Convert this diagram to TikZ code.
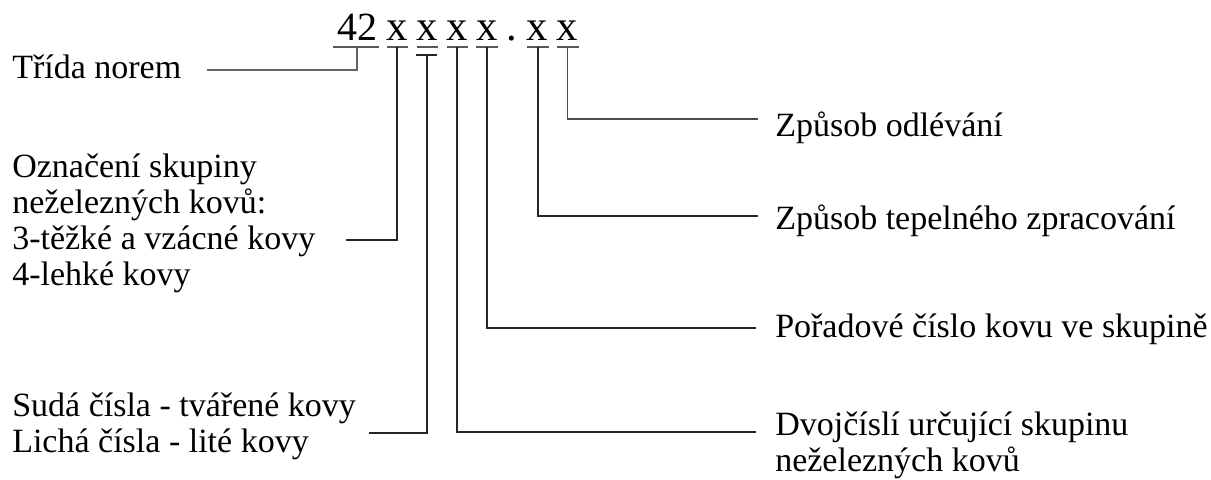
\documentclass[tikz,border=0pt]{standalone}
\usepackage{fontspec}
\setmainfont{Liberation Serif}
\begin{document}
\begin{tikzpicture}[x=0.75pt,y=-0.75pt,
  lbl/.style={anchor=base west,inner sep=0pt,font=\fontsize{25.5pt}{27pt}\selectfont},
  code/.style={anchor=base,inner sep=0pt,font=\fontsize{30pt}{32pt}\selectfont},
  codex/.style={code,font=\fontsize{32pt}{34pt}\selectfont},
  conn/.style={draw=black!85,line width=0.95pt},
  uline/.style={draw=black!65,line width=0.8pt}]
\useasboundingbox (0,0) rectangle (1211,479);
\fill[white] (0,0) rectangle (1211,479);

% code characters
\node[code] (c42) at (357,40) {42};
\node[codex] (c1) at (397,40) {x};
\node[codex] (c2) at (427.5,40) {x};
\node[codex] (c3) at (457,40) {x};
\node[codex] (c4) at (487,40) {x};
\node[codex] (cdot) at (512,40) {.};
\node[codex] (c5) at (537.5,40) {x};
\node[codex] (c6) at (567.5,40) {x};

% underlines
\draw[uline] (333,47) -- (379,47);
\draw[uline] (387,47) -- (408,47);
\draw[uline] (417,47) -- (438,47);
\draw[uline] (447,47) -- (468,47);
\draw[uline] (476,47) -- (498,47);
\draw[uline] (527,47) -- (549,47);
\draw[uline] (557,47) -- (579,47);
\draw[conn] (416,55) -- (437,55);

% connector start points
\coordinate (u42) at (357,47);
\coordinate (u1) at (397,47);
\coordinate (u2) at (427,55);
\coordinate (u3) at (457,47);
\coordinate (u4) at (487,47);
\coordinate (u5) at (538,47);
\coordinate (u6) at (567.5,47);

% connector ends
\coordinate (e42) at (207,70);
\coordinate (e1) at (346,240);
\coordinate (e2) at (369,433);
\coordinate (e3) at (756,432);
\coordinate (e4) at (756,328);
\coordinate (e5) at (758,216);
\coordinate (e6) at (758,119);

% left labels
\node[lbl] (tn) at (12,78) {Třída norem};
\node[lbl] (os1) at (12,177) {Označení skupiny};
\node[lbl] (os2) at (12,213) {neželezných kovů:};
\node[lbl] (os3) at (12,249) {3-těžké a vzácné kovy};
\node[lbl] (os4) at (12,285) {4-lehké kovy};
\node[lbl] (sc1) at (12,416) {Sudá čísla - tvářené kovy};
\node[lbl] (sc2) at (12,452) {Lichá čísla - lité kovy};

% right labels
\node[lbl] (zo) at (775,136) {Způsob odlévání};
\node[lbl] (zt) at (775,229) {Způsob tepelného zpracování};
\node[lbl] (pc) at (775,337) {Pořadové číslo kovu ve skupině};
\node[lbl] (dc1) at (775,435) {Dvojčíslí určující skupinu};
\node[lbl] (dc2) at (775,471) {neželezných kovů};

% connectors
\draw[conn,draw=black!60] (u42) |- (e42);
\draw[conn] (u1) |- (e1);
\draw[conn] (u2) |- (e2);
\draw[conn] (u3) |- (e3);
\draw[conn] (u4) |- (e4);
\draw[conn] (u5) |- (e5);
\draw[conn,draw=black!70] (u6) |- (e6);
\end{tikzpicture}
\end{document}
